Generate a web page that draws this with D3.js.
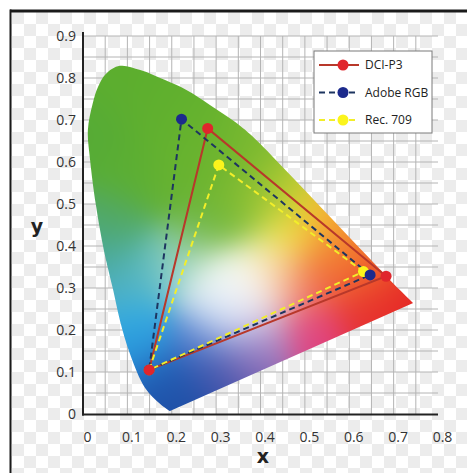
<!DOCTYPE html>
<html lang="en">
<head>
<meta charset="UTF-8">
<title>Colour gamuts on the CIE xy diagram</title>
<script src="https://d3js.org/d3.v7.min.js"></script>
<style>
  body { margin: 0; background: #fff; }
  svg { display: block; }
  .tick-label text { font: 14px "Open Sans", sans-serif; fill: #333; }
  .axis-title { font: bold 19px "DejaVu Sans", sans-serif; fill: #222; }
  .legend-text { font: 12px "Open Sans", sans-serif; fill: #222; }
</style>
</head>
<body>
<svg width="467" height="473"></svg>
<script>
// spectral locus: bottom tip, up the left side, over the top, down to the red end
const locusX = [0.196, 0.174, 0.140, 0.106, 0.083, 0.068, 0.047, 0.029, 0.016, 0.011, 0.022, 0.034, 0.052,
                0.083, 0.129, 0.185, 0.234, 0.286, 0.343, 0.388, 0.467, 0.557, 0.647, 0.714, 0.744];
const locusY = [0.007, 0.024, 0.062, 0.143, 0.224, 0.295, 0.390, 0.498, 0.605, 0.676, 0.740, 0.779, 0.810,
                0.829, 0.819, 0.795, 0.771, 0.736, 0.695, 0.655, 0.569, 0.469, 0.369, 0.295, 0.264];

// gamut corners (red, green, blue)
const gamutNames = ["DCI-P3", "Adobe RGB", "Rec. 709"];
const dciP3    = [[0.683, 0.328], [0.281, 0.680], [0.149, 0.105]];
const adobeRGB = [[0.647, 0.331], [0.222, 0.702], [0.149, 0.105]];
const rec709   = [[0.632, 0.339], [0.306, 0.593], [0.149, 0.105]];

const xTicks = [0, 0.1, 0.2, 0.3, 0.4, 0.5, 0.6, 0.7, 0.8];
const yTicks = [0, 0.1, 0.2, 0.3, 0.4, 0.5, 0.6, 0.7, 0.8, 0.9];

// colour stops used to paint the inside of the horseshoe
const stopX = [0.083, 0.030, 0.160, 0.240, 0.113, 0.200, 0.300, 0.338, 0.390, 0.399, 0.451, 0.338, 0.264,
               0.534, 0.580, 0.650,
               0.074, 0.045, 0.074, 0.113, 0.113, 0.174, 0.196, 0.150,
               0.225, 0.300, 0.335, 0.360, 0.350, 0.320, 0.264, 0.390, 0.376, 0.300,
               0.451, 0.527, 0.602, 0.466, 0.410, 0.512, 0.640, 0.720];
const stopY = [0.780, 0.680, 0.720, 0.660, 0.574, 0.560, 0.620, 0.574, 0.620, 0.533, 0.533, 0.469, 0.438,
               0.462, 0.410, 0.340,
               0.455, 0.374, 0.295, 0.217, 0.160, 0.074, 0.026, 0.340,
               0.360, 0.312, 0.280, 0.300, 0.265, 0.231, 0.183, 0.200, 0.136, 0.098,
               0.300, 0.326, 0.367, 0.431, 0.362, 0.200, 0.248, 0.270];
const stopColor = ["#5cae2e", "#56ab36", "#60b02e", "#64b22e", "#5aae32", "#68b330", "#6cb42e", "#72b630", "#7cba30", "#98c434", "#c4d032", "#74b834", "#6cb440",
                   "#f5b830", "#f59030", "#ee5a2a",
                   "#52a860", "#48a898", "#50b0c8", "#30b0e8", "#2890d8", "#2060b8", "#1e4aa0", "#5cbcc4",
                   "#a8d8c8", "#f0f8f4", "#ffffff", "#ffffff", "#ffffff", "#a8c8f0", "#4a78cc", "#b8a0d8", "#8060b0", "#3a50a8",
                   "#f4a888", "#f06040", "#f07030", "#f2e840", "#faf2b8", "#e04080", "#e63030", "#e52525"];

const W = 467, H = 473;
const svg = d3.select("svg");
const defs = svg.append("defs");

const x = d3.scaleLinear().domain([0, 0.8]).range([83, 438]);
const y = d3.scaleLinear().domain([0, 0.9]).range([414, 36]);

// checkerboard backdrop
const pat = defs.append("pattern").attr("id", "checker")
    .attr("width", 24).attr("height", 24).attr("patternUnits", "userSpaceOnUse");
pat.append("rect").attr("width", 24).attr("height", 24).attr("fill", "#fff");
pat.append("rect").attr("width", 12).attr("height", 12).attr("fill", "#ececec");
pat.append("rect").attr("x", 12).attr("y", 12).attr("width", 12).attr("height", 12).attr("fill", "#ececec");
svg.append("rect").attr("x", 11).attr("y", 12).attr("width", W - 11).attr("height", H - 12).attr("fill", "url(#checker)");

// frame
svg.append("rect").attr("x", 10).attr("y", 9.5).attr("width", W - 10).attr("height", 3).attr("fill", "#1a1a1a");
svg.append("rect").attr("x", 9.5).attr("y", 9.5).attr("width", 2).attr("height", H - 9.5).attr("fill", "#1a1a1a");

// grid
const grid = svg.append("g").attr("stroke", "#b4b4b4").attr("stroke-width", 1);
grid.selectAll(".gx").data(d3.range(1, 16).map(i => i * 0.05)).join("line")
    .attr("x1", d => x(d)).attr("x2", d => x(d)).attr("y1", y(0.9)).attr("y2", y(0));
grid.selectAll(".gy").data(d3.range(1, 19).map(i => i * 0.05)).join("line")
    .attr("x1", x(0)).attr("x2", x(0.8)).attr("y1", d => y(d)).attr("y2", d => y(d));

// horseshoe
const locus = locusX.map((v, i) => [v, locusY[i]]);
const locusPath = d3.line().x(d => x(d[0])).y(d => y(d[1])).curve(d3.curveCatmullRom)(locus) + "Z";
defs.append("clipPath").attr("id", "locus").append("path").attr("d", locusPath);

const stops = stopX.map((v, i) => {
  const c = d3.rgb(stopColor[i]);
  return {px: x(v), py: y(stopY[i]), r: c.r, g: c.g, b: c.b};
});
const canvas = document.createElement("canvas");
canvas.width = W; canvas.height = H;
const ctx = canvas.getContext("2d");
const img = ctx.createImageData(W, H);
const s2 = 2 * 24 * 24;
const d2 = new Float64Array(stops.length);
for (let py = 55; py < 416; py++) {
  for (let px = 82; px < 420; px++) {
    let m = Infinity;
    for (let k = 0; k < stops.length; k++) {
      const dx = px - stops[k].px, dy = py - stops[k].py;
      d2[k] = dx * dx + dy * dy;
      if (d2[k] < m) m = d2[k];
    }
    let ws = 0, r = 0, g = 0, b = 0;
    for (let k = 0; k < stops.length; k++) {
      const w = Math.exp(-(d2[k] - m) / s2);
      ws += w; r += w * stops[k].r; g += w * stops[k].g; b += w * stops[k].b;
    }
    const o = (py * W + px) * 4;
    img.data[o] = r / ws; img.data[o + 1] = g / ws; img.data[o + 2] = b / ws; img.data[o + 3] = 255;
  }
}
ctx.putImageData(img, 0, 0);
svg.append("image").attr("href", canvas.toDataURL()).attr("width", W).attr("height", H)
    .attr("clip-path", "url(#locus)");

// axes
svg.append("line").attr("x1", x(0)).attr("x2", x(0)).attr("y1", 32).attr("y2", 415.5)
    .attr("stroke", "#222").attr("stroke-width", 2);
svg.append("line").attr("x1", x(0) - 1).attr("x2", x(0.8)).attr("y1", 414.5).attr("y2", 414.5)
    .attr("stroke", "#222").attr("stroke-width", 2);

const fmt = d => d === 0 ? "0" : d3.format(".1f")(d);
svg.append("g").attr("class", "tick-label").attr("transform", "translate(4,414)")
    .call(d3.axisBottom(x).tickValues(xTicks).tickFormat(fmt).tickSize(0).tickPadding(18))
    .call(g => g.select(".domain").remove());
svg.append("g").attr("class", "tick-label").attr("transform", "translate(83,0)")
    .call(d3.axisLeft(y).tickValues(yTicks).tickFormat(fmt).tickSize(0).tickPadding(7))
    .call(g => g.select(".domain").remove());

svg.append("text").attr("class", "axis-title").attr("x", 263).attr("y", 463)
    .attr("text-anchor", "middle").text("x");
svg.append("text").attr("class", "axis-title").attr("x", 37).attr("y", 233)
    .attr("text-anchor", "middle").text("y");

// gamut triangles
const gamuts = [
  {name: gamutNames[0], pts: dciP3, line: "#b8382a", dot: "#e0262c", dash: null},
  {name: gamutNames[1], pts: adobeRGB, line: "#1d3560", dot: "#1c2a8c", dash: "6,4"},
  {name: gamutNames[2], pts: rec709, line: "#f2ee2a", dot: "#fbf41c", dash: "6,4"}
];
const tri = d3.line().x(d => x(d[0])).y(d => y(d[1]));
gamuts.forEach(gm => {
  svg.append("path").attr("d", tri(gm.pts) + "Z").attr("fill", "none")
      .attr("stroke", gm.line).attr("stroke-width", 2)
      .attr("stroke-dasharray", gm.dash);
});
[gamuts[2], gamuts[1], gamuts[0]].forEach(gm => {
  svg.append("g").selectAll("circle").data(gm.pts).join("circle")
      .attr("cx", d => x(d[0])).attr("cy", d => y(d[1])).attr("r", 5.5)
      .attr("fill", gm.dot);
});

// legend
const lg = svg.append("g");
lg.append("rect").attr("x", 314).attr("y", 51).attr("width", 118).attr("height", 82)
    .attr("fill", "#fff").attr("stroke", "#7a7a7a").attr("stroke-width", 1);
gamuts.forEach((gm, i) => {
  const ly = 65 + i * 27.5;
  lg.append("line").attr("x1", 319).attr("x2", 359).attr("y1", ly).attr("y2", ly)
      .attr("stroke", gm.line).attr("stroke-width", 2).attr("stroke-dasharray", gm.dash);
  lg.append("circle").attr("cx", 343).attr("cy", ly).attr("r", 5.5).attr("fill", gm.dot);
  lg.append("text").attr("class", "legend-text").attr("x", 365).attr("y", ly + 4).text(gm.name);
});
</script>
</body>
</html>
